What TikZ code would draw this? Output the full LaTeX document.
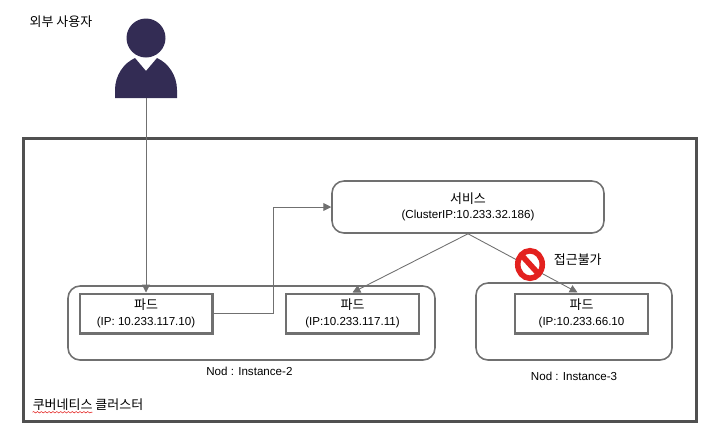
\documentclass[tikz,border=0pt]{standalone}
\usepackage{fontspec}
\setmainfont{Liberation Sans}
\newfontfamily\kr[Scale=1.12]{Noto Sans CJK KR}
\usetikzlibrary{positioning, arrows.meta, shapes.geometric, decorations.pathmorphing}
\definecolor{k8sline}{HTML}{707070}
\definecolor{k8sdark}{HTML}{505050}
\definecolor{k8suser}{HTML}{332C54}
\definecolor{k8sred}{HTML}{E3211F}

\begin{document}
\begin{tikzpicture}[
      x=0.02cm, y=-0.02cm,
      every node/.style={font=\fontsize{6.6pt}{8.9pt}\selectfont, inner sep=0pt, align=center},
      podbox/.style={draw=k8sline, line width=1.15pt, minimum width=2.66cm, minimum height=0.8cm},
      hostbox/.style={draw=k8sline, line width=0.9pt, rounded corners=0.24cm},
      link/.style={draw=k8sline, line width=0.5pt, -{Triangle[length=4.5pt, width=4.5pt]}},
    ]
    \useasboundingbox (0,0) rectangle (715,444);

    % Cluster
    \node[draw=k8sdark, line width=1.7pt, minimum width=13.48cm, minimum height=5.68cm] (cluster) at (360,280) {};
    \node (clustertext) at (88,405) {\kr 쿠버네티스 클러스터};
    \draw[k8sred, line width=0.3pt, decorate, decoration={snake, amplitude=0.4pt, segment length=2.2pt}]
      (clustertext.south west) ++(0,1) -- ++(60,0);

    % Worker nodes
    \node[hostbox, minimum width=7.34cm, minimum height=1.48cm] (inst2) at (251.5,323) {};
    \node[hostbox, minimum width=3.92cm, minimum height=1.54cm] (inst3) at (574,321.5) {};
    \node[below=3.5pt of inst2, xshift=-1.2pt] (inst2text) {Nod : Instance-2};
    \node[below=6.2pt of inst3] (inst3text) {Nod : Instance-3};

    % Pods
    \node[podbox] (pod1) at (146,313.5) {{\kr 파드}\\(IP: 10.233.117.10)};
    \node[podbox] (pod2) at (352.5,313.5) {{\kr 파드}\\(IP:10.233.117.11)};
    \node[podbox] (pod3) at (581.5,313.5) {{\kr 파드}\\(IP:10.233.66.10};

    % Service
    \node[hostbox, minimum width=5.44cm, minimum height=1.04cm] (service) at (468,207)
      {{\kr 서비스}\\(ClusterIP:10.233.32.186)};

    % User
    \node[circle, fill=k8suser, minimum size=0.78cm] (head) at (146,38) {};
    \fill[k8suser] (115,98) -- (115,90) .. controls (115,75) and (124,63) .. (135,58)
      -- (146,71) -- (157,58) .. controls (168,63) and (177,75) .. (177,90) -- (177,98) -- cycle;
    \coordinate (user) at (146,98);
    \node (usertext) at (61,22) {\kr 외부 사용자};

    % Connections
    \draw[link] (user) -- (pod1.north);
    \draw[link] (pod1.east) -- ++(60,0) |- (service.west);
    \draw[link] (service.south) -- (pod2.north);
    \draw[link] (service.south) -- ([xshift=-0.08cm]pod3.north);

    % Blocked
    \node[ellipse, draw=k8sred, fill=white, line width=3.2pt, minimum width=0.49cm, minimum height=0.55cm] (block) at (530,264.5) {};
    \draw[k8sred, line width=3.2pt, shorten >=1pt, shorten <=1pt] (block.north west) -- (block.south east);
    \node[right=4.8pt of block, yshift=2.8pt] (blocktext) {\kr 접근불가};
  \end{tikzpicture}
\end{document}
